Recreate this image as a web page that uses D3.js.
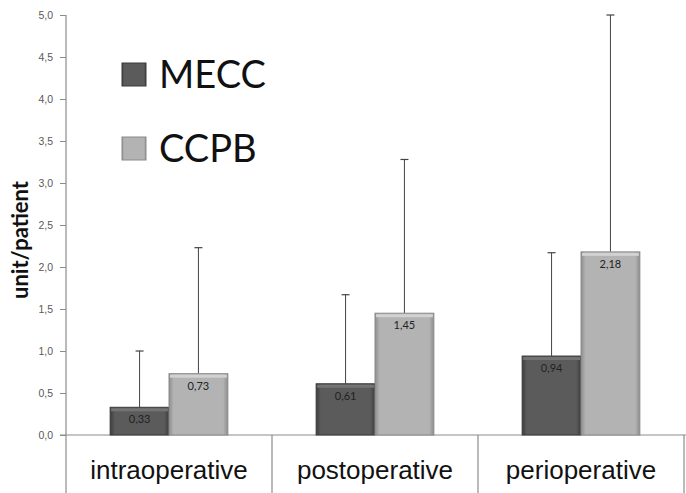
<!DOCTYPE html>
<html>
<head>
<meta charset="utf-8">
<script src="https://cdn.jsdelivr.net/npm/d3@7"></script>
<style>
  body { margin: 0; background: #fff; }
  svg { display: block; font-family: Lato, "Open Sans", sans-serif; }
</style>
</head>
<body>
<div id="chart"></div>
<script>
// data
var categories = ["intraoperative", "postoperative", "perioperative"];
var seriesNames = ["MECC", "CCPB"];
var meccValues = [0.33, 0.61, 0.94];
var ccpbValues = [0.73, 1.45, 2.18];
var meccErrTop = [1.00, 1.67, 2.17];
var ccpbErrTop = [2.23, 3.28, 5.00];
var yTicks = [0, 0.5, 1, 1.5, 2, 2.5, 3, 3.5, 4, 4.5, 5];

var width = 686, height = 493;
var plotLeft = 66, plotRight = 684, plotTop = 15, zeroY = 435;

var svg = d3.select("#chart").append("svg")
    .attr("width", width)
    .attr("height", height);

var comma = d3.formatLocale({ decimal: ",", thousands: ".", grouping: [3], currency: ["", ""] });
var fmt1 = comma.format(".1f"), fmt2 = comma.format(".2f");

// scales
var x = d3.scaleBand().domain(categories).range([plotLeft, plotRight]);
var xInner = d3.scaleBand().domain(seriesNames).range([0, x.bandwidth()]).paddingOuter(0.75).paddingInner(0);
var y = d3.scaleLinear().domain([0, 5]).range([zeroY, plotTop]);

// gradients (bevel look)
var defs = svg.append("defs");
function grad(id, edge, mid) {
  var g = defs.append("linearGradient").attr("id", id).attr("x1", 0).attr("x2", 1).attr("y1", 0).attr("y2", 0);
  g.append("stop").attr("offset", "0%").attr("stop-color", edge);
  g.append("stop").attr("offset", "8%").attr("stop-color", mid);
  g.append("stop").attr("offset", "92%").attr("stop-color", mid);
  g.append("stop").attr("offset", "100%").attr("stop-color", edge);
}
grad("gMECC", "#3c3c3c", "#5b5b5b");
grad("gCCPB", "#8e8e8e", "#b3b3b3");
var fills = { MECC: "url(#gMECC)", CCPB: "url(#gCCPB)" };
var strokes = { MECC: "#3a3a3a", CCPB: "#8a8a8a" };
var tops = { MECC: "#747474", CCPB: "#d2d2d2" };

// y axis
var yAxis = svg.append("g")
    .attr("transform", "translate(" + plotLeft + ",0)")
    .call(d3.axisLeft(y).tickValues(yTicks).tickFormat(fmt1).tickSize(6).tickSizeOuter(0));
yAxis.select(".domain").remove();
yAxis.selectAll(".tick line").attr("stroke", "#8c8c8c");
yAxis.selectAll(".tick text").attr("fill", "#595959").attr("font-size", "10.5px").attr("x", -13);
svg.append("line").attr("x1", plotLeft).attr("x2", plotLeft).attr("y1", plotTop).attr("y2", height)
    .attr("stroke", "#8c8c8c").attr("stroke-width", 1.2);

// y label
svg.append("text")
    .attr("transform", "translate(28," + ((plotTop + zeroY) / 2 + 15) + ") rotate(-90)")
    .attr("text-anchor", "middle")
    .attr("font-size", "22px")
    .attr("font-weight", "bold")
    .attr("fill", "#111")
    .text("unit/patient");

// x axis
svg.append("line").attr("x1", plotLeft - 6).attr("x2", width).attr("y1", zeroY).attr("y2", zeroY)
    .attr("stroke", "#8c8c8c").attr("stroke-width", 1.2);
var xAxis = svg.append("g")
    .attr("transform", "translate(0," + zeroY + ")")
    .call(d3.axisBottom(x).tickSize(0));
xAxis.select(".domain").remove();
xAxis.selectAll(".tick text").attr("font-size", "26px").attr("fill", "#111").attr("dy", 0).attr("y", 44);
categories.forEach(function(c) {
  svg.append("line").attr("x1", x(c) + x.bandwidth()).attr("x2", x(c) + x.bandwidth())
      .attr("y1", zeroY).attr("y2", height).attr("stroke", "#8c8c8c").attr("stroke-width", 1.2);
});

// bars
var rows = [];
categories.forEach(function(c, i) {
  rows.push({ cat: c, s: "MECC", v: meccValues[i], e: meccErrTop[i] });
  rows.push({ cat: c, s: "CCPB", v: ccpbValues[i], e: ccpbErrTop[i] });
});

var bar = svg.selectAll(".bar").data(rows).enter().append("g").attr("class", "bar");

// error bars behind
bar.append("line")
    .attr("x1", function(d) { return x(d.cat) + xInner(d.s) + xInner.bandwidth() / 2; })
    .attr("x2", function(d) { return x(d.cat) + xInner(d.s) + xInner.bandwidth() / 2; })
    .attr("y1", function(d) { return y(d.v); })
    .attr("y2", function(d) { return y(d.e); })
    .attr("stroke", "#444").attr("stroke-width", 1);
bar.append("line")
    .attr("x1", function(d) { return x(d.cat) + xInner(d.s) + xInner.bandwidth() / 2 - 4; })
    .attr("x2", function(d) { return x(d.cat) + xInner(d.s) + xInner.bandwidth() / 2 + 4; })
    .attr("y1", function(d) { return y(d.e); })
    .attr("y2", function(d) { return y(d.e); })
    .attr("stroke", "#444").attr("stroke-width", 1.2);

bar.append("rect")
    .attr("x", function(d) { return x(d.cat) + xInner(d.s); })
    .attr("y", function(d) { return y(d.v); })
    .attr("width", xInner.bandwidth())
    .attr("height", function(d) { return zeroY - y(d.v); })
    .attr("fill", function(d) { return fills[d.s]; })
    .attr("stroke", function(d) { return strokes[d.s]; })
    .attr("stroke-width", 1);
bar.append("rect")
    .attr("x", function(d) { return x(d.cat) + xInner(d.s) + 1; })
    .attr("y", function(d) { return y(d.v) + 1; })
    .attr("width", xInner.bandwidth() - 2)
    .attr("height", 3)
    .attr("fill", function(d) { return tops[d.s]; });

bar.append("text")
    .attr("x", function(d) { return x(d.cat) + xInner(d.s) + xInner.bandwidth() / 2; })
    .attr("y", function(d) { return y(d.v) + 16; })
    .attr("text-anchor", "middle")
    .attr("font-size", "11px")
    .attr("fill", "#222")
    .text(function(d) { return fmt2(d.v); });

// legend
var legend = svg.selectAll(".legend").data(seriesNames).enter().append("g")
    .attr("class", "legend")
    .attr("transform", function(d, i) { return "translate(122," + (63 + i * 74) + ")"; });
legend.append("rect")
    .attr("width", 24).attr("height", 23)
    .attr("fill", function(d) { return fills[d]; })
    .attr("stroke", function(d) { return strokes[d]; });
legend.append("text")
    .attr("x", 37).attr("y", 25)
    .attr("font-size", "38px")
    .attr("fill", "#111")
    .text(function(d) { return d; });
</script>
</body>
</html>
